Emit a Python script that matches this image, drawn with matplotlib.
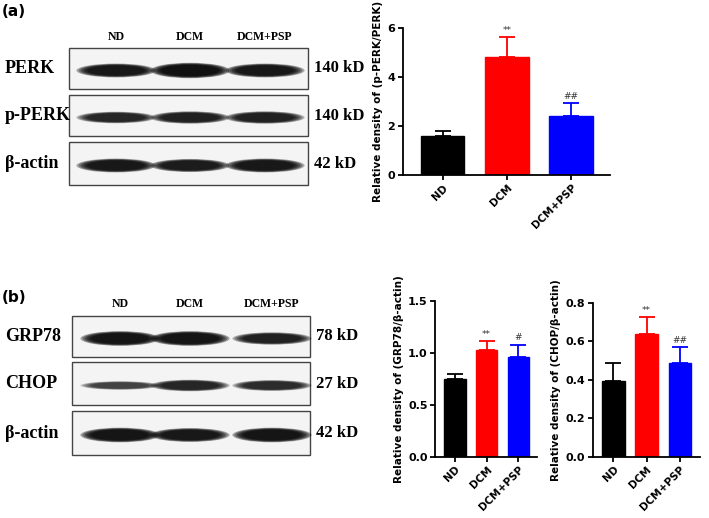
import matplotlib
matplotlib.use("Agg")
import matplotlib.pyplot as plt
from matplotlib.patches import Ellipse, Rectangle
import numpy as np

groups = ["ND", "DCM", "DCM+PSP"]
colors = ["black", "#ff0000", "#0000ff"]

perk_mean = [1.58, 4.80, 2.42]
perk_err = [0.22, 0.82, 0.50]
perk_sig = ["", "**", "##"]

grp_mean = [0.75, 1.03, 0.96]
grp_err = [0.05, 0.08, 0.12]
grp_sig = ["", "**", "#"]

chop_mean = [0.395, 0.64, 0.49]
chop_err = [0.095, 0.085, 0.08]
chop_sig = ["", "**", "##"]

blot_a_rows = ["PERK", "p-PERK", "β-actin"]
blot_a_kd = ["140 kD", "140 kD", "42 kD"]
blot_b_rows = ["GRP78", "CHOP", "β-actin"]
blot_b_kd = ["78 kD", "27 kD", "42 kD"]
# band darkness (decorative) per row and lane
blot_a_int = [[0.9, 1.0, 0.9], [0.75, 0.8, 0.8], [0.9, 0.85, 0.9]]
blot_b_int = [[0.95, 0.95, 0.8], [0.55, 0.75, 0.7], [0.95, 0.9, 0.95]]

W, H = 709, 518
fig = plt.figure(figsize=(W/100, H/100), dpi=100)
bg = fig.add_axes([0, 0, 1, 1])
bg.set_xlim(0, W); bg.set_ylim(H, 0); bg.axis("off")

serif = "Liberation Serif"

def blot(x0, x1, tops, bottoms, rows, kds, ints, header_y, lane_x, header_fs):
    for name, lx in zip(groups, lane_x):
        bg.text(lx, header_y, name, ha="center", va="center", fontfamily=serif,
                fontweight="bold", fontsize=header_fs)
    for i, (t, b) in enumerate(zip(tops, bottoms)):
        bg.add_patch(Rectangle((x0, t), x1 - x0, b - t, facecolor="#f4f4f4",
                               edgecolor="#444444", lw=1))
        cy = (t + b) / 2
        bg.text(5, cy, rows[i], ha="left", va="center", fontfamily=serif,
                fontweight="bold", fontsize=13)
        bg.text(x1 + 6, cy, kds[i], ha="left", va="center", fontfamily=serif,
                fontweight="bold", fontsize=12)
        for j, lx in enumerate(lane_x):
            d = ints[i][j]
            for s in np.linspace(1.1, 0.8, 6):
                bg.add_patch(Ellipse((lx, cy + 2), 72 * s, 14 * d * s,
                                     facecolor="black", alpha=0.35 * d,
                                     edgecolor="none"))

blot(69, 308, [48, 95, 142], [89, 136, 185], blot_a_rows, blot_a_kd,
     blot_a_int, 37, [116, 190, 265], 8.5)
blot(72, 310, [316, 362, 411], [357, 405, 455], blot_b_rows, blot_b_kd,
     blot_b_int, 304, [120, 190, 272], 8.5)

bg.text(2, 12, "(a)", fontsize=11, fontweight="bold", va="center")
bg.text(2, 298, "(b)", fontsize=11, fontweight="bold", va="center")

def barplot(rect, means, errs, sigs, ylim, yticks, fmt, ylabel):
    ax = fig.add_axes(rect)
    x = np.arange(len(groups))
    ax.bar(x, means, width=0.68, color=colors, edgecolor=colors)
    for xi, m, e, c, s in zip(x, means, errs, colors, sigs):
        ax.errorbar(xi, m, yerr=[[0], [e]], color=c, capsize=6, lw=1.3, capthick=1.3)
        if s:
            ax.text(xi, m + e + (ylim[1]) * 0.015, s, ha="center", va="bottom",
                    fontsize=6.5, color="#333333")
    ax.set_xlim(-0.62, 2.6)
    ax.set_ylim(*ylim)
    ax.set_yticks(yticks)
    ax.set_yticklabels([fmt.format(v) for v in yticks], fontweight="bold", fontsize=8)
    ax.set_xticks(x)
    ax.set_xticklabels(groups, rotation=45, ha="right", rotation_mode="anchor",
                       fontweight="bold", fontsize=7.5)
    ax.spines[["top", "right"]].set_visible(False)
    for sp in ["left", "bottom"]:
        ax.spines[sp].set_linewidth(1.3)
    ax.tick_params(width=1.3, length=3.5, pad=2)
    ax.set_ylabel(ylabel, fontweight="bold", fontsize=7.5, labelpad=3)
    return ax

barplot([0.568, 0.662, 0.292, 0.284], perk_mean, perk_err, perk_sig,
        (0, 6), [0, 2, 4, 6], "{:g}", "Relative density of (p-PERK/PERK)")
barplot([0.614, 0.118, 0.144, 0.301], grp_mean, grp_err, grp_sig,
        (0, 1.5), [0.0, 0.5, 1.0, 1.5], "{:.1f}", "Relative density of (GRP78/β-actin)")
barplot([0.836, 0.118, 0.151, 0.297], chop_mean, chop_err, chop_sig,
        (0, 0.8), [0.0, 0.2, 0.4, 0.6, 0.8], "{:.1f}", "Relative density of (CHOP/β-actin)")

fig.savefig("out.png", dpi=100)
